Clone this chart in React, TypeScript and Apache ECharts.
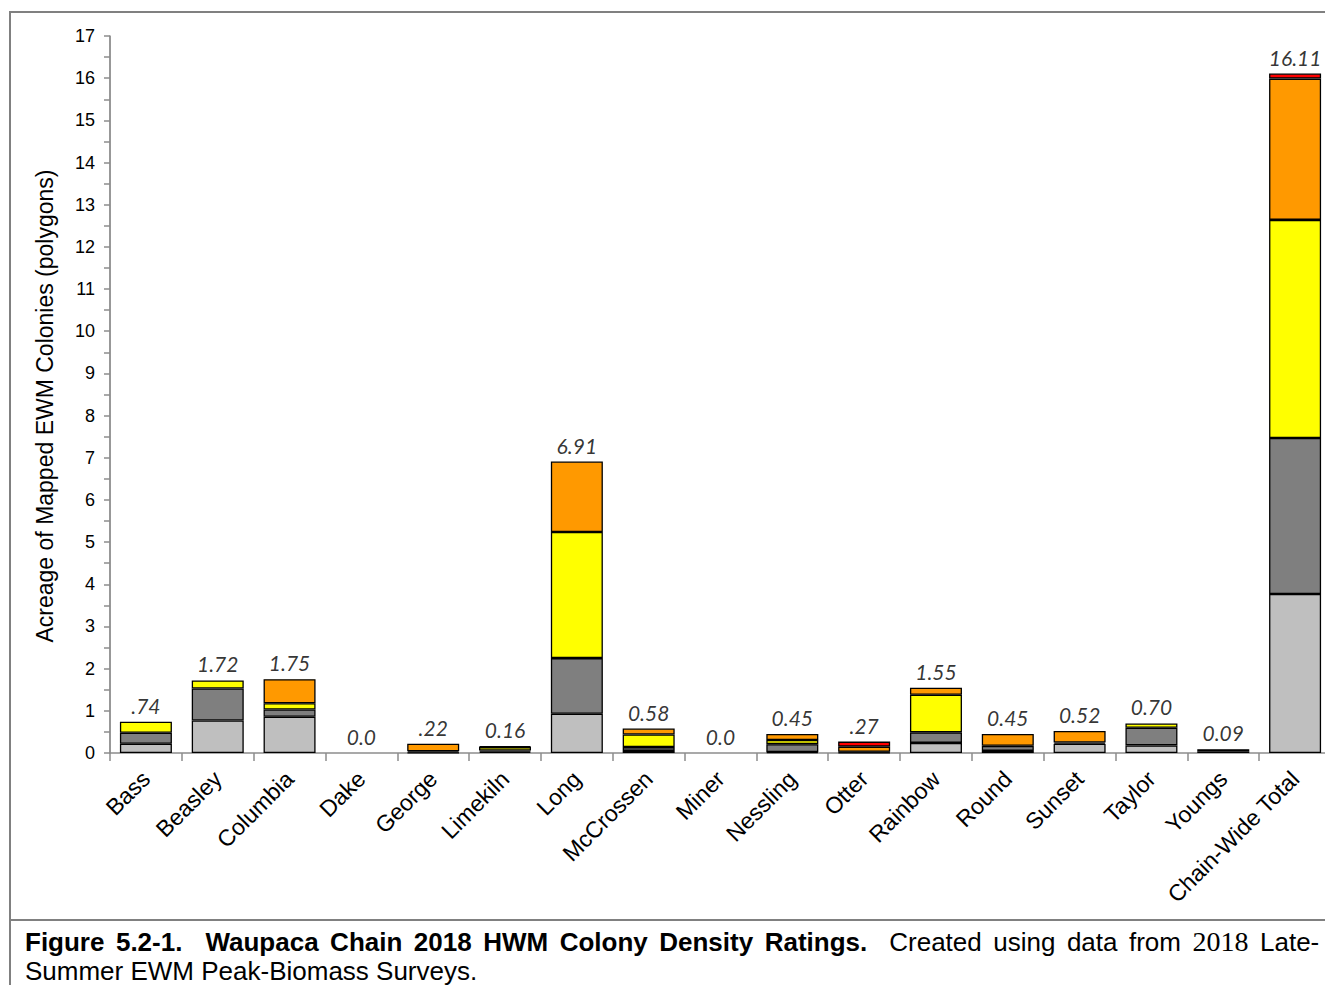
import React, { useEffect, useRef } from "react";
import * as echarts from "echarts";

const categories = [
  "Bass", "Beasley", "Columbia", "Dake", "George", "Limekiln", "Long", "McCrossen",
  "Miner", "Nessling", "Otter", "Rainbow", "Round", "Sunset", "Taylor", "Youngs",
  "Chain-Wide Total",
];
const lightGray = [0.22, 0.77, 0.86, 0, 0.01, 0.03, 0.93, 0.05, 0, 0.02, 0.01, 0.24, 0.05, 0.22, 0.18, 0.04, 3.77];
const darkGray = [0.26, 0.76, 0.17, 0, 0.03, 0.03, 1.32, 0.09, 0, 0.19, 0.02, 0.25, 0.12, 0.03, 0.42, 0.05, 3.7];
const yellow = [0.26, 0.19, 0.15, 0, 0, 0.08, 2.99, 0.3, 0, 0.1, 0, 0.89, 0, 0, 0.1, 0, 5.17];
const orange = [0, 0, 0.57, 0, 0.18, 0.02, 1.67, 0.14, 0, 0.14, 0.12, 0.17, 0.28, 0.27, 0, 0, 3.35];
const red = [0, 0, 0, 0, 0, 0, 0, 0, 0, 0, 0.12, 0, 0, 0, 0, 0, 0.12];
const totalLabels = [
  ".74", "1.72", "1.75", "0.0", ".22", "0.16", "6.91", "0.58", "0.0", "0.45", ".27",
  "1.55", "0.45", "0.52", "0.70", "0.09", "16.11",
];
const yTicks = { min: 0, max: 17, interval: 1 };
const yTitle = "Acreage of Mapped EWM Colonies (polygons)";

// caption pieces: [style, word]
const captionLine1: [string, string][] = [
  ["b", "Figure"], ["b", "5.2-1."], ["d", ""], ["b", "Waupaca"], ["b", "Chain"], ["b", "2018"],
  ["b", "HWM"], ["b", "Colony"], ["b", "Density"], ["b", "Ratings."], ["d", ""],
  ["n", "Created"], ["n", "using"], ["n", "data"], ["n", "from"], ["s", "2018"], ["n", "Late-"],
];
const captionLine2 = "Summer EWM Peak-Biomass Surveys.";

const segments = [
  { name: "Light", data: lightGray, color: "#BFBFBF" },
  { name: "Dark", data: darkGray, color: "#7F7F7F" },
  { name: "Yellow", data: yellow, color: "#FFFF00" },
  { name: "Orange", data: orange, color: "#FF9900" },
  { name: "Red", data: red, color: "#FF0000" },
];

function buildCaption() {
  const parts: string[] = [];
  captionLine1.forEach(([st, w], i) => {
    if (st === "d") return;
    if (parts.length > 0) {
      const prev = captionLine1[i - 1];
      const dbl = prev && prev[0] === "d";
      const boldSide = st === "b";
      parts.push(dbl ? (boldSide ? "{bdsp| }" : "{ndsp| }") : boldSide ? "{bsp| }" : "{nsp| }");
    }
    parts.push(`{${st}|${w}}`);
  });
  return parts.join("") + `\n{n|${captionLine2}}`;
}

const CHART_W = 1340;

export default function App() {
  const ref = useRef<HTMLDivElement>(null);
  useEffect(() => {
    if (!ref.current) return;
    const chart = echarts.init(ref.current, null, { renderer: "svg" });
    const stackTops = categories.map((_, i) =>
      segments.reduce((s, seg) => s + seg.data[i], 0)
    );
    const axisGray = "#8C8C8C";
    chart.setOption({
      animation: false,
      backgroundColor: "#FFFFFF",
      grid: { left: 110, right: CHART_W - 1331, top: 36, bottom: 232, containLabel: false },
      xAxis: {
        type: "category",
        data: categories,
        boundaryGap: true,
        axisLine: { lineStyle: { color: axisGray, width: 1.5 } },
        axisTick: { show: true, length: 8, lineStyle: { color: axisGray, width: 1.5 } },
        axisLabel: {
          rotate: 45,
          interval: 0,
          margin: 22,
          color: "#000",
          fontSize: 23,
          fontFamily: "Liberation Sans",
        },
        splitLine: {
          show: true,
          interval: (i: number) => i === 16,
          lineStyle: { color: "#A6A6A6", width: 1.5 },
        },
      },
      yAxis: {
        type: "value",
        min: yTicks.min,
        max: yTicks.max,
        interval: yTicks.interval,
        axisLine: { show: true, lineStyle: { color: axisGray, width: 1.5 } },
        axisTick: { show: true, length: 6, lineStyle: { color: axisGray, width: 1.5 } },
        minorTick: { show: true, splitNumber: 2, length: 6, lineStyle: { color: axisGray, width: 1.5 } },
        splitLine: { show: false },
        axisLabel: { color: "#000", fontSize: 18, margin: 15, fontFamily: "Liberation Sans" },
      },
      series: [
        ...segments.map((seg) => ({
          name: seg.name,
          type: "bar",
          stack: "total",
          barWidth: 52,
          data: seg.data.map((v) => (v === 0 ? null : v)),
          itemStyle: { color: seg.color, borderColor: "#000", borderWidth: 1.3 },
        })),
        {
          name: "labels",
          type: "scatter",
          symbolSize: 0,
          z: 5,
          data: stackTops,
          label: {
            show: true,
            position: "top",
            distance: 6,
            formatter: (p: any) => totalLabels[p.dataIndex],
            fontSize: 21,
            fontStyle: "italic",
            fontFamily: "Lato",
            color: "#000",
          },
        },
      ],
      graphic: [
        {
          type: "rect",
          shape: { x: 10, y: 12, width: 1340, height: 1000 },
          style: { fill: "none", stroke: "#808080", lineWidth: 2 },
          silent: true,
        },
        {
          type: "line",
          shape: { x1: 10, y1: 920, x2: 1340, y2: 920 },
          style: { stroke: "#808080", lineWidth: 2 },
          silent: true,
        },
        {
          type: "text",
          x: 45,
          y: 406,
          rotation: Math.PI / 2,
          style: {
            text: yTitle,
            align: "center",
            verticalAlign: "middle",
            fontSize: 23,
            fontFamily: "Liberation Sans",
            fill: "#000",
          },
        },
        {
          type: "text",
          x: 25,
          y: 927,
          style: {
            text: buildCaption(),
            verticalAlign: "top",
            rich: {
              b: { fontSize: 26, fontWeight: "bold", fontFamily: "Liberation Sans", fill: "#000", lineHeight: 29 },
              n: { fontSize: 26, fontFamily: "Liberation Sans", fill: "#000", lineHeight: 29 },
              s: { fontSize: 28, fontFamily: "'Liberation Serif', 'DejaVu Serif', serif", fill: "#000", lineHeight: 29 },
              bsp: { fontSize: 26, width: 11.5, lineHeight: 29 },
              bdsp: { fontSize: 26, width: 23, lineHeight: 29 },
              nsp: { fontSize: 26, width: 11.5, lineHeight: 29 },
              ndsp: { fontSize: 26, width: 22, lineHeight: 29 },
            },
          },
        },
      ],
    });
    return () => chart.dispose();
  }, []);
  return (
    <div style={{ position: "absolute", left: 0, top: 0, width: 1325, height: 985, overflow: "hidden" }}>
      <div ref={ref} style={{ width: CHART_W, height: 985 }} />
    </div>
  );
}
